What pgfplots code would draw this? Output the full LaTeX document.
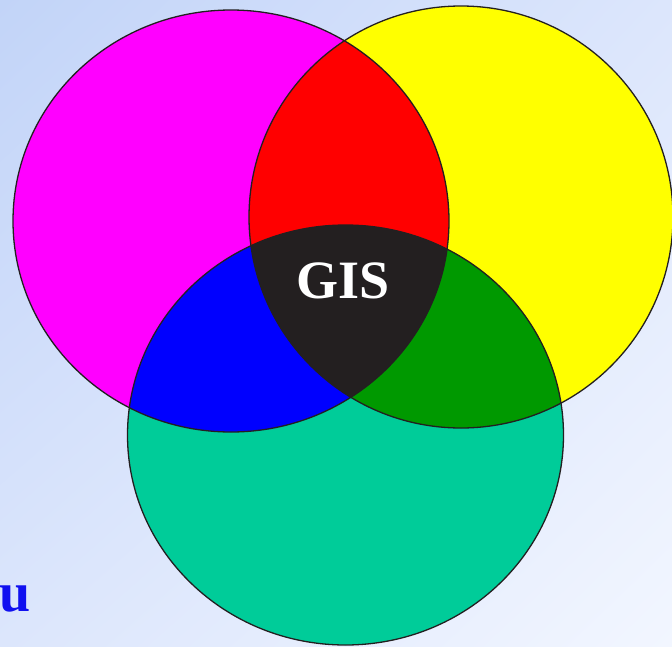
\documentclass[border=0pt]{standalone}
\usepackage{pgfplots}
\pgfplotsset{compat=1.18}
\usetikzlibrary{shadings}
\usepackage{fontspec}
\setmainfont{Liberation Serif}
\definecolor{bgA}{RGB}{194,212,248}
\definecolor{bgB}{RGB}{220,230,252}
\definecolor{bgC}{RGB}{242,246,255}
\definecolor{cM}{RGB}{255,0,255}
\definecolor{cY}{RGB}{255,255,0}
\definecolor{cT}{RGB}{0,204,153}
\definecolor{cR}{RGB}{255,0,0}
\definecolor{cB}{RGB}{0,0,255}
\definecolor{cG}{RGB}{0,153,0}
\definecolor{cK}{RGB}{35,31,32}
\definecolor{cU}{RGB}{16,16,240}
\begin{document}
\begin{tikzpicture}
\begin{axis}[hide axis, scale only axis, width=672pt, height=646pt,
  xmin=0, xmax=672, ymin=0, ymax=646, y dir=reverse, clip=true]
\addplot[draw=none] coordinates {(0,0) (672,646)};
% background
\shade[upper left=bgA, upper right=bgB, lower left=bgB, lower right=bgC]
  (axis cs:0,0) rectangle (axis cs:672,646);
% circles
\def\M{(axis cs:231,221) ellipse [x radius=218, y radius=211]}
\def\Y{(axis cs:461,217) ellipse [x radius=212, y radius=211]}
\def\T{(axis cs:345.5,435) ellipse [x radius=218, y radius=210]}
\fill[cM] \M;
\fill[cY] \Y;
\fill[cT] \T;
\begin{scope}\clip \M; \fill[cR] \Y; \end{scope}
\begin{scope}\clip \M; \fill[cB] \T; \end{scope}
\begin{scope}\clip \Y; \fill[cG] \T; \end{scope}
\begin{scope}\clip \M; \clip \Y; \fill[cK] \T; \end{scope}
\draw[cK, line width=1.3pt] \M;
\draw[cK, line width=1.3pt] \Y;
\draw[cK, line width=1.3pt] \T;
\node[text=white, font=\fontsize{54}{54}\selectfont\bfseries, anchor=base]
  at (axis cs:343,298) {GIS};
\node[text=cU, font=\fontsize{56}{56}\selectfont\bfseries, anchor=base]
  at (axis cs:15,611) {u};
\end{axis}
\pgfresetboundingbox
\useasboundingbox (current axis.south west) rectangle (current axis.north east);
\end{tikzpicture}
\end{document}
